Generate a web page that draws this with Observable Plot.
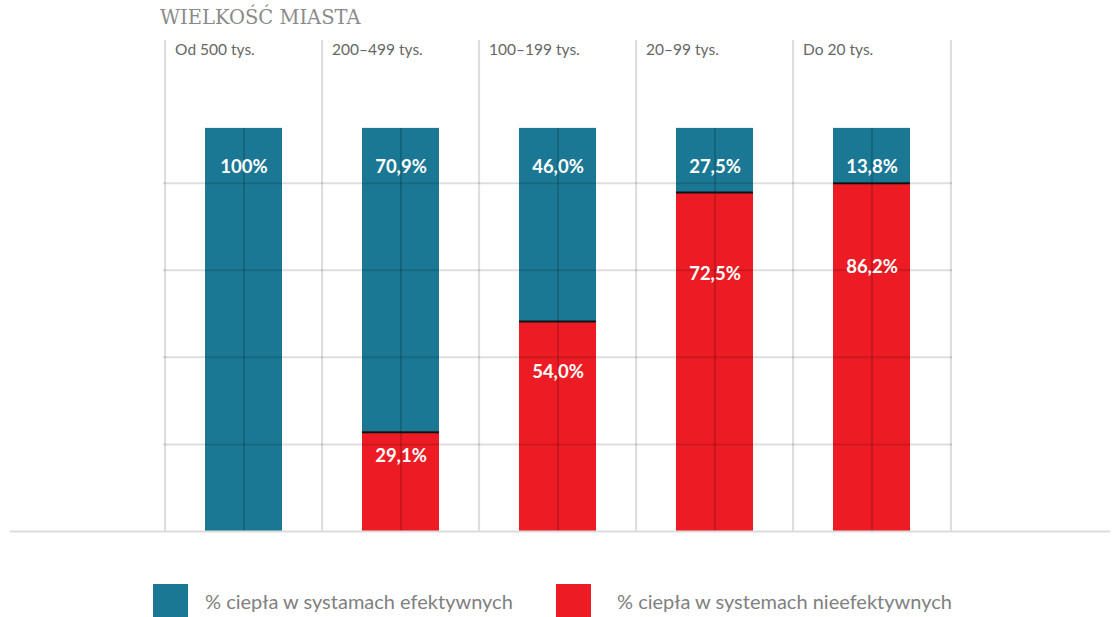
<!DOCTYPE html>
<html>
<head>
<meta charset="utf-8">
<script src="https://cdn.jsdelivr.net/npm/d3@7"></script>
<script src="https://cdn.jsdelivr.net/npm/@observablehq/plot@0.6"></script>
<style>
  html, body { margin: 0; padding: 0; background: #fff; width: 1120px; height: 617px; overflow: hidden; }
  #title { position: absolute; left: 160px; top: 6px; font-family: "DejaVu Serif", serif; font-size: 19.5px; color: #8a8a8a; }
  #chart { position: absolute; left: 0; top: 36px; }
  .legend { position: absolute; top: 584px; font-family: Lato, sans-serif; font-size: 20px; color: #808080; }
  .sw { position: absolute; top: 0; width: 35px; height: 34px; }
  .lt { position: absolute; top: 5px; white-space: nowrap; }
</style>
</head>
<body>
<div id="title">WIELKOŚĆ MIASTA</div>
<div id="chart"></div>
<div class="legend">
  <div class="sw" style="left:153px;background:#1b7895"></div>
  <div class="lt" style="left:205px">% ciepła w systamach efektywnych</div>
  <div class="sw" style="left:556px;background:#ed1c24"></div>
  <div class="lt" style="left:617px">% ciepła w systemach nieefektywnych</div>
</div>
<script>
const categories = ["Od 500 tys.", "200–499 tys.", "100–199 tys.", "20–99 tys.", "Do 20 tys."];
// values printed on the bars
const efektywne = [100, 70.9, 46.0, 27.5, 13.8];
const nieefektywne = [0, 29.1, 54.0, 72.5, 86.2];
// heights of the red segments as they are drawn in the picture (% of the full bar)
const nieefektywneDrawn = [0, 24.6, 52.1, 84.1, 86.4];
const gridTicks = [21.6, 43.2, 64.8, 86.4];
const seriesNames = ["nieefektywne", "efektywne"];
const seriesColors = ["#ed1c24", "#1b7895"];

const fmt = v => v === 100 ? "100%" : v.toFixed(1).replace(".", ",") + "%";

const rows = [];
categories.forEach((c, i) => {
  rows.push({cat: c, series: "nieefektywne", value: nieefektywneDrawn[i]});
  rows.push({cat: c, series: "efektywne", value: 100 - nieefektywneDrawn[i]});
});

const width = 1120, height = 510;
const marginLeft = 163, marginRight = 168, marginTop = 4, marginBottom = 15;
const bw = (width - marginLeft - marginRight) / categories.length;
const barInset = 40;

const blueLabels = categories.map((c, i) => ({cat: c, v: efektywne[i]})).filter(d => d.v > 0);
const redLabels = categories.map((c, i) => ({cat: c, v: nieefektywne[i], h: nieefektywneDrawn[i]})).filter(d => d.v > 0);
const dividers = categories.map((c, i) => ({cat: c, y: nieefektywneDrawn[i], ok: nieefektywne[i] > 0 && efektywne[i] > 0})).filter(d => d.ok);

const chart = Plot.plot({
  width, height, marginLeft, marginRight, marginTop, marginBottom,
  x: {type: "band", domain: categories, padding: 0, axis: null},
  y: {domain: [0, 121.8], axis: null},
  color: {domain: seriesNames, range: seriesColors},
  style: {fontFamily: "Lato, sans-serif"},
  marks: [
    Plot.ruleX(categories, {x: d => d, dx: -bw / 2, stroke: "#dcdcdc", strokeWidth: 2}),
    Plot.ruleX([categories[categories.length - 1]], {x: d => d, dx: bw / 2, stroke: "#dcdcdc", strokeWidth: 2}),
    Plot.barY(rows, {x: "cat", y: "value", fill: "series", insetLeft: barInset, insetRight: barInset}),
    Plot.ruleX(categories, {x: d => d, y1: 0, y2: 100, stroke: "#000", strokeOpacity: 0.22, strokeWidth: 1.5}),
    Plot.ruleY(gridTicks, {stroke: "#000", strokeOpacity: 0.13, strokeWidth: 2}),
    Plot.ruleY([0], {stroke: "#dcdcdc", strokeWidth: 2, insetLeft: -153, insetRight: -158}),
    Plot.tickY(dividers, {x: "cat", y: "y", stroke: "#111", strokeWidth: 2, insetLeft: barInset, insetRight: barInset}),
    Plot.text(categories, {x: d => d, text: d => d, frameAnchor: "top", dy: 10, dx: -bw / 2 + 10, textAnchor: "start", lineAnchor: "middle", fontSize: 15.5, fill: "#666"}),
    Plot.text(blueLabels, {x: "cat", y: 100, text: d => fmt(d.v), dy: 39, fill: "white", fontSize: 18.5, fontWeight: "bold", lineAnchor: "middle"}),
    Plot.text(redLabels, {x: "cat", y: d => d.h * 0.76, text: d => fmt(d.v), fill: "white", fontSize: 18.5, fontWeight: "bold", lineAnchor: "middle"})
  ]
});
document.getElementById("chart").appendChild(chart);
</script>
</body>
</html>
